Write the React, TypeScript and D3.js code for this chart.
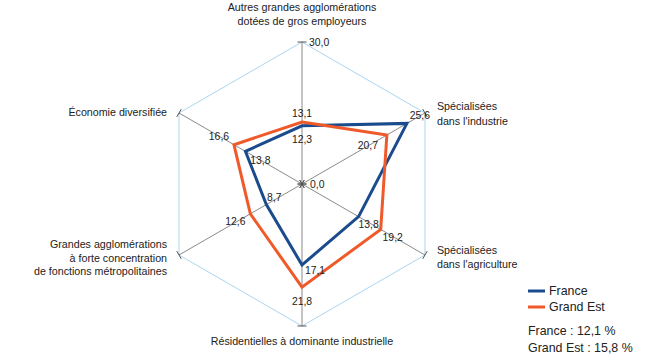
import React from 'react';
import * as d3 from 'd3';

// axes, clockwise from the top
const axisLabels: string[][] = [
  ['Autres grandes agglomérations', 'dotées de gros employeurs'],
  ['Spécialisées', "dans l'industrie"],
  ['Spécialisées', "dans l'agriculture"],
  ['Résidentielles à dominante industrielle'],
  ['Grandes agglomérations', 'à forte concentration', 'de fonctions métropolitaines'],
  ['Économie diversifiée'],
];
const france = [12.3, 25.6, 13.8, 17.1, 8.7, 13.8];
const grandEst = [13.1, 20.7, 19.2, 21.8, 12.6, 16.6];
const maxValue = 30;
const seriesNames = ['France', 'Grand Est'];
const averages = ['12,1', '15,8'];

const BLUE = '#1a4b8c';
const ORANGE = '#f05a2a';
const GRID = '#a9d6f0';
const AXIS = '#7d7d7d';
const FONT = '"Liberation Sans", Arial, sans-serif';

const cx = 302;
const cy = 184;
const R = 142;

// label placement (relative to the vertex): x offset, first baseline offset, anchor
const axisLabelPos: [number, number, string][] = [
  [0, -31, 'middle'],
  [12, -3, 'start'],
  [12, -1, 'start'],
  [0, 19, 'middle'],
  [-12, -7, 'end'],
  [-12, 3, 'end'],
];
const axisLineHeight = [14, 14.5, 14, 14, 13.5, 14];
// value label offsets (centre of text relative to the point)
const franceLabelOff = [[0, 14], [13, -8], [10, 8], [13, 5], [8, -7], [15, 9]];
const grandEstLabelOff = [[0, -9], [-19, 10], [12, 8], [0, 14], [-15, 8], [-15, -8]];

const fmt = (v: number) => v.toFixed(1).replace('.', ',');

const App: React.FC = () => {
  const n = axisLabels.length;
  const r = d3.scaleLinear().domain([0, maxValue]).range([0, R]);
  const angle = (i: number) => (i * 2 * Math.PI) / n;
  const pt = (i: number, v: number): [number, number] => [
    cx + r(v) * Math.sin(angle(i)),
    cy - r(v) * Math.cos(angle(i)),
  ];

  const radial = d3
    .lineRadial<number>()
    .angle((_, i) => angle(i))
    .radius((d) => r(d))
    .curve(d3.curveLinearClosed);

  const grid = radial(axisLabels.map(() => maxValue)) || '';

  const tick = (i: number, v: number, key: string) => {
    const [x, y] = pt(i, v);
    const a = angle(i);
    const dx = Math.cos(a) * 4.5;
    const dy = Math.sin(a) * 4.5;
    return <line key={key} x1={x - dx} y1={y - dy} x2={x + dx} y2={y + dy} stroke="#555" strokeWidth={1} />;
  };

  const valueLabels = (data: number[], offs: number[][], pre: string) =>
    data.map((v, i) => {
      const [x, y] = pt(i, v);
      return (
        <text
          key={pre + i}
          x={x + offs[i][0]}
          y={y + offs[i][1] + 3.6}
          textAnchor="middle"
          fontSize={10.4}
          fill="#222"
        >
          {fmt(v)}
        </text>
      );
    });

  return (
    <svg width={650} height={360} style={{ position: 'absolute', left: 0, top: 0, fontFamily: FONT }}>
      <rect width={650} height={360} fill="#fff" />
      <g transform={`translate(${cx},${cy})`}>
        <path d={grid} fill="none" stroke={GRID} strokeWidth={1} />
      </g>
      {axisLabels.map((_, i) => {
        const [x, y] = pt(i, maxValue);
        return <line key={'ax' + i} x1={cx} y1={cy} x2={x} y2={y} stroke={AXIS} strokeWidth={0.9} />;
      })}
      {axisLabels.map((_, i) => tick(i, maxValue, 'te' + i))}
      {axisLabels.map((_, i) => tick(i, 0, 'tc' + i))}
      <g transform={`translate(${cx},${cy})`}>
        <path d={radial(france) || ''} fill="none" stroke={BLUE} strokeWidth={3} strokeLinejoin="miter" />
        <path d={radial(grandEst) || ''} fill="none" stroke={ORANGE} strokeWidth={3} strokeLinejoin="miter" />
      </g>
      {valueLabels(france, franceLabelOff, 'fr')}
      {valueLabels(grandEst, grandEstLabelOff, 'ge')}
      <text x={cx + 8} y={cy + 3.6} fontSize={10.4} fill="#222">{fmt(0)}</text>
      <text x={cx + 7} y={cy - R + 3.6} fontSize={10.4} fill="#222">{fmt(maxValue)}</text>
      {axisLabels.map((lines, i) => {
        const [x, y] = pt(i, maxValue);
        const [ox, oy, anchor] = axisLabelPos[i];
        return (
          <text key={'lab' + i} x={x + ox} y={y + oy} fontSize={10.7} fill="#222" textAnchor={anchor as any}>
            {lines.map((l, j) => (
              <tspan key={j} x={x + ox} dy={j === 0 ? 0 : axisLineHeight[i]}>
                {l}
              </tspan>
            ))}
          </text>
        );
      })}
      {seriesNames.map((s, i) => (
        <g key={'lg' + i} transform={`translate(528,${291 + i * 16})`}>
          <line x1={0} x2={17} y1={0} y2={0} stroke={i === 0 ? BLUE : ORANGE} strokeWidth={3} />
          <text x={21} y={4.4} fontSize={12.4} fill="#222">{s}</text>
        </g>
      ))}
      {seriesNames.map((s, i) => (
        <text key={'av' + i} x={528} y={334.5 + i * 17} fontSize={12.4} fill="#222">
          {`${s} : ${averages[i]} %`}
        </text>
      ))}
    </svg>
  );
};

export default App;
